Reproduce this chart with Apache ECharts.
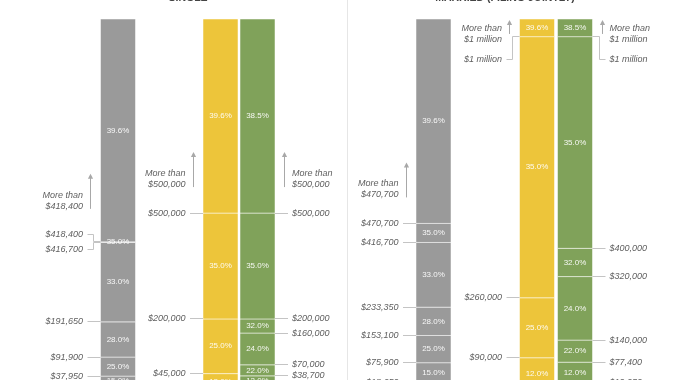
<!DOCTYPE html>
<html><head><meta charset="utf-8">
<script src="https://cdn.jsdelivr.net/npm/echarts@6/dist/echarts.min.js"></script>
<style>html,body{margin:0;padding:0;background:#fff}#chart{width:700px;height:380px}</style>
</head><body><div id="chart"></div>
<script>
// ---------- DATA ----------
const panelTitles = ['SINGLE', 'MARRIED (FILING JOINTLY)'];
const columnNames = ['Current law, single', 'House plan, single', 'Senate plan, single',
                     'Current law, married', 'House plan, married', 'Senate plan, married'];
// bracket lower bounds (dollars) and rates (%)
const singleCurrentThresholds = [0, 9325, 37950, 91900, 191650, 416700, 418400];
const singleCurrentRates      = [10.0, 15.0, 25.0, 28.0, 33.0, 35.0, 39.6];
const singleHouseThresholds   = [0, 45000, 200000, 500000];
const singleHouseRates        = [12.0, 25.0, 35.0, 39.6];
const singleSenateThresholds  = [0, 9525, 38700, 70000, 160000, 200000, 500000];
const singleSenateRates       = [10.0, 12.0, 22.0, 24.0, 32.0, 35.0, 38.5];
const marriedCurrentThresholds = [0, 18650, 75900, 153100, 233350, 416700, 470700];
const marriedCurrentRates      = [10.0, 15.0, 25.0, 28.0, 33.0, 35.0, 39.6];
const marriedHouseThresholds   = [0, 90000, 260000, 1000000];
const marriedHouseRates        = [12.0, 25.0, 35.0, 39.6];
const marriedSenateThresholds  = [0, 19050, 77400, 140000, 320000, 400000, 1000000];
const marriedSenateRates       = [10.0, 12.0, 22.0, 24.0, 32.0, 35.0, 38.5];
const scaleTop = 1050000; // top of the drawn columns

const thresholdsByColumn = [singleCurrentThresholds, singleHouseThresholds, singleSenateThresholds,
                            marriedCurrentThresholds, marriedHouseThresholds, marriedSenateThresholds];
const ratesByColumn = [singleCurrentRates, singleHouseRates, singleSenateRates,
                       marriedCurrentRates, marriedHouseRates, marriedSenateRates];

// ---------- LAYOUT / STYLE ----------
const GRAY = '#9a9a9a', YELLOW = '#edc53a', GREEN = '#80a25a';
const layout = [
  { x: 118,   color: GRAY,   side: 'left'  },
  { x: 220.5, color: YELLOW, side: 'left'  },
  { x: 257.5, color: GREEN,  side: 'right' },
  { x: 433.5, color: GRAY,   side: 'left'  },
  { x: 537,   color: YELLOW, side: 'left'  },
  { x: 575,   color: GREEN,  side: 'right' }
];
// pixel shifts of threshold labels (to avoid collisions), per column
const labelShift = [{ 418400: -7, 416700: 7 }, {}, {}, {}, { 1000000: 23 }, { 1000000: 23 }];
// "More than" annotation offsets relative to top label: [line1, line2, arrowBottom, arrowTip]
const moreOffsets = [null, null, null, null, [-31.4, -20, -25.7, -39.7], [-31.4, -20, -25.7, -39.7]];
const DEFAULT_MORE = [-39.6, -28.6, -26, -61];
const BAR_W = 35;
const FONT = 'Liberation Sans, Arial, Helvetica, sans-serif';
const LINE_C = '#c4c4c4';
const TEXT_C = '#5f5f5f';

function fmtMoney(v) {
  if (v >= 1000000) return '$' + (v / 1000000) + ' million';
  return '$' + v.toLocaleString('en-US');
}
function crisp(v) { return Math.round(v - 0.5) + 0.5; }

function renderColumn(params, api) {
  const idx = api.value(0);
  const th = thresholdsByColumn[idx];
  const rates = ratesByColumn[idx];
  const L = layout[idx];
  const children = [];
  const cx = api.coord([L.x, 0])[0];
  const left = cx - BAR_W / 2, right = cx + BAR_W / 2;

  // segments
  for (let i = 0; i < th.length; i++) {
    const lo = th[i];
    const hi = i + 1 < th.length ? th[i + 1] : scaleTop;
    const yLo = api.coord([L.x, lo])[1];
    const yHi = api.coord([L.x, hi])[1];
    children.push({
      type: 'rect',
      shape: { x: left, y: yHi, width: BAR_W, height: yLo - yHi },
      style: { fill: L.color, stroke: 'rgba(255,255,255,0.5)', lineWidth: 1 }
    });
  }
  // rate labels
  for (let i = 0; i < th.length; i++) {
    const lo = th[i];
    const hi = i + 1 < th.length ? th[i + 1] : scaleTop;
    const yLo = api.coord([L.x, lo])[1];
    const yHi = api.coord([L.x, hi])[1];
    children.push({
      type: 'text', z2: 10,
      style: { text: rates[i].toFixed(1) + '%', x: cx, y: (yLo + yHi) / 2,
        align: 'center', verticalAlign: 'middle',
        fontSize: 8, fontFamily: FONT, fill: 'rgba(255,255,255,0.92)' }
    });
  }
  // threshold labels + leader lines
  const shifts = labelShift[idx];
  let topLabelY = null;
  for (let i = 1; i < th.length; i++) {
    const v = th[i];
    const y = api.coord([L.x, v])[1];
    const shift = shifts[v] || 0;
    const ly = y + shift;
    if (i === th.length - 1) topLabelY = ly;
    const isLeft = L.side === 'left';
    const textX = isLeft ? left - 17.5 : right + 17;
    children.push({
      type: 'text',
      style: { text: fmtMoney(v), x: textX, y: ly, align: isLeft ? 'right' : 'left',
        verticalAlign: 'middle', fontSize: 9, fontStyle: 'italic', fontFamily: FONT, fill: TEXT_C }
    });
    const edge = isLeft ? left : right;
    const far = isLeft ? left - 13 : right + 13;
    if (!shift) {
      children.push({ type: 'line', shape: { x1: far, y1: crisp(y), x2: edge, y2: crisp(y) },
        style: { stroke: LINE_C, lineWidth: 1 } });
    } else {
      const elbow = crisp(isLeft ? left - 7 : right + 7);
      children.push({ type: 'polyline',
        shape: { points: [[far, crisp(ly)], [elbow, crisp(ly)], [elbow, crisp(y)], [edge, crisp(y)]] },
        style: { stroke: LINE_C, lineWidth: 1, fill: null } });
    }
  }
  // "More than" annotation with arrow
  const off = moreOffsets[idx] || DEFAULT_MORE;
  const isLeft = L.side === 'left';
  const topV = th[th.length - 1];
  const textX = isLeft ? left - 17.5 : right + 17;
  children.push({ type: 'text', style: { text: 'More than', x: textX, y: topLabelY + off[0],
    align: isLeft ? 'right' : 'left', verticalAlign: 'middle', fontSize: 9, fontStyle: 'italic',
    fontFamily: FONT, fill: TEXT_C } });
  children.push({ type: 'text', style: { text: fmtMoney(topV), x: textX, y: topLabelY + off[1],
    align: isLeft ? 'right' : 'left', verticalAlign: 'middle', fontSize: 9, fontStyle: 'italic',
    fontFamily: FONT, fill: TEXT_C } });
  const ax = crisp(isLeft ? left - 10 : right + 9.5);
  const yb = topLabelY + off[2], yt = topLabelY + off[3];
  children.push({ type: 'line', shape: { x1: ax, y1: yb, x2: ax, y2: yt + 4 },
    style: { stroke: '#a8a8a8', lineWidth: 1 } });
  children.push({ type: 'polygon', shape: { points: [[ax - 2.6, yt + 5], [ax + 2.6, yt + 5], [ax, yt]] },
    style: { fill: '#a8a8a8' } });

  return { type: 'group', children: children };
}

const chart = echarts.init(document.getElementById('chart'), null, { renderer: 'canvas' });
chart.setOption({
  animation: false,
  backgroundColor: '#ffffff',
  grid: { left: 0, right: 0, top: 19, height: 370.5, outerBoundsMode: 'none' },
  xAxis: { type: 'value', min: 0, max: 700, show: false },
  yAxis: { type: 'value', min: 0, max: scaleTop, show: false },
  graphic: [
    { type: 'line', shape: { x1: 347.5, y1: 0, x2: 347.5, y2: 380 }, style: { stroke: '#e6e6e6', lineWidth: 1 } },
    { type: 'text', x: 188, y: -1.5, style: { text: panelTitles[0], align: 'center', verticalAlign: 'middle',
      fontSize: 10.5, fontWeight: 'bold', fontFamily: FONT, fill: '#444' } },
    { type: 'text', x: 505, y: -1.5, style: { text: panelTitles[1], align: 'center', verticalAlign: 'middle',
      fontSize: 10.5, fontWeight: 'bold', fontFamily: FONT, fill: '#444' } }
  ],
  series: [{
    type: 'custom',
    name: 'Tax brackets',
    clip: false,
    renderItem: renderColumn,
    data: columnNames.map((n, i) => ({ name: n, value: [i] }))
  }]
});
</script></body></html>
